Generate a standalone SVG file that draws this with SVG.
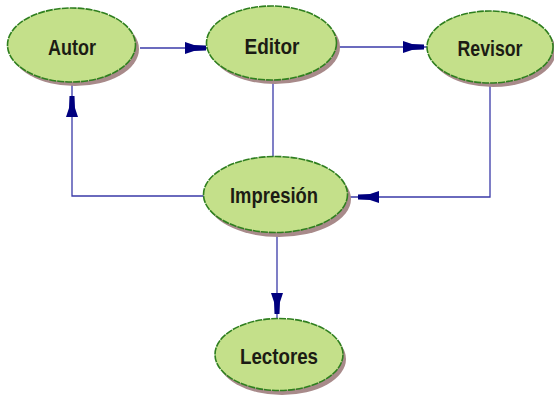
<svg xmlns="http://www.w3.org/2000/svg" width="554" height="398" viewBox="0 0 554 398">
<style>
.sh{fill:#a88a8a}
.el{fill:#c4e08a;stroke:#2f7f1f;stroke-width:1.6;stroke-dasharray:7 1}
.lb{font-family:"Liberation Sans",Arial,sans-serif;font-weight:bold;font-size:22.5px;fill:#1c1c14;text-anchor:middle}
.cn{fill:none;stroke:#3a3aa8;stroke-width:1.3}
.ah{fill:#00007f}
</style>
<defs>
<path id="head" d="M0,-6 L9,-3 L21,-2.5 L21,2.5 L9,3 L0,6 Z"/>
</defs>
<g id="connectors">
<line class="cn" x1="140" y1="48" x2="207" y2="48"/>
<use href="#head" class="ah" transform="translate(185,48)"/>
<line class="cn" x1="338" y1="47" x2="427" y2="47"/>
<use href="#head" class="ah" transform="translate(403,47)"/>
<line class="cn" x1="273" y1="82" x2="273" y2="157"/>
<polyline class="cn" points="490,84 490,197 350,197"/>
<use href="#head" class="ah" transform="translate(379,197) rotate(180)"/>
<polyline class="cn" points="204,196 72,196 72,83"/>
<use href="#head" class="ah" transform="translate(72,117) rotate(-90)"/>
<line class="cn" x1="277" y1="230" x2="277" y2="318"/>
<use href="#head" class="ah" transform="translate(277,293) rotate(90)"/>
</g>
<g id="autor">
<ellipse class="sh" cx="75" cy="49" rx="64" ry="37"/>
<ellipse class="el" cx="71.5" cy="45" rx="64" ry="37"/>
<text class="lb" x="72" y="55" textLength="48" lengthAdjust="spacingAndGlyphs">Autor</text>
</g>
<g id="editor">
<ellipse class="sh" cx="275" cy="47" rx="65" ry="37"/>
<ellipse class="el" cx="271.5" cy="43" rx="65" ry="37"/>
<text class="lb" x="272" y="54" textLength="55" lengthAdjust="spacingAndGlyphs">Editor</text>
</g>
<g id="revisor">
<ellipse class="sh" cx="493" cy="51" rx="63" ry="36"/>
<ellipse class="el" cx="490" cy="47" rx="63" ry="36"/>
<text class="lb" x="490" y="56" textLength="65" lengthAdjust="spacingAndGlyphs">Revisor</text>
</g>
<g id="impresion">
<ellipse class="sh" cx="279" cy="199" rx="72" ry="38"/>
<ellipse class="el" cx="275.5" cy="194.5" rx="72" ry="38"/>
<text class="lb" x="274" y="203" textLength="88" lengthAdjust="spacingAndGlyphs">Impresión</text>
</g>
<g id="lectores">
<ellipse class="sh" cx="282" cy="359" rx="64" ry="36"/>
<ellipse class="el" cx="279" cy="354.5" rx="64" ry="36"/>
<text class="lb" x="279" y="364" textLength="78" lengthAdjust="spacingAndGlyphs">Lectores</text>
</g>
</svg>
